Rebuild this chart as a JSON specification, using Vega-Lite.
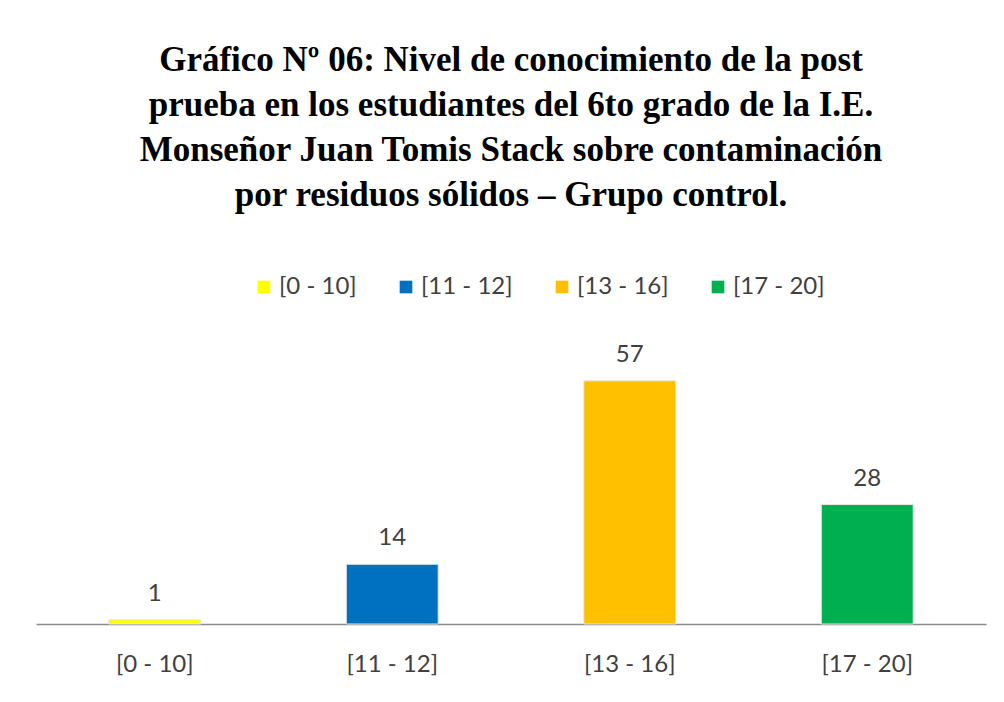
{
  "$schema": "https://vega.github.io/schema/vega-lite/v6.json",
  "width": 950,
  "height": 256,
  "autosize": {"type": "none"},
  "padding": {"left": 36, "top": 368, "right": 18, "bottom": 78},
  "background": "#ffffff",
  "config": {"view": {"stroke": null}},
  "title": {
    "text": ["Gráfico Nº 06: Nivel de conocimiento de la post", "prueba en los estudiantes del 6to grado de la I.E.", "Monseñor Juan Tomis Stack sobre contaminación", "por residuos sólidos – Grupo control."],
    "font": "Liberation Serif",
    "fontSize": 35,
    "fontWeight": "bold",
    "color": "#000000",
    "lineHeight": 45,
    "anchor": "middle",
    "baseline": "alphabetic",
    "offset": 34
  },
  "data": {
    "values": [
      {"rango": "[0 - 10]", "n": 1},
      {"rango": "[11 - 12]", "n": 14},
      {"rango": "[13 - 16]", "n": 57},
      {"rango": "[17 - 20]", "n": 28}
    ]
  },
  "encoding": {
    "x": {
      "field": "rango",
      "type": "nominal",
      "sort": null,
      "scale": {"paddingInner": 0.613, "paddingOuter": 0.3065},
      "axis": {
        "title": null,
        "labelAngle": 0,
        "ticks": false,
        "domainColor": "#8c8c8c",
        "domainWidth": 1.5,
        "labelFont": "Lato",
        "labelFontSize": 24,
        "labelColor": "#404040",
        "labelPadding": 28
      }
    },
    "y": {
      "field": "n",
      "type": "quantitative",
      "scale": {"domain": [0, 60]},
      "axis": null
    }
  },
  "layer": [
    {
      "mark": {"type": "bar", "stroke": "#e6e6e6", "strokeWidth": 1},
      "encoding": {
        "color": {
          "field": "rango",
          "type": "nominal",
          "sort": null,
          "scale": {"domain": ["[0 - 10]", "[11 - 12]", "[13 - 16]", "[17 - 20]"], "range": ["#FFFF00", "#0070C0", "#FFC000", "#00B050"]},
          "legend": {
            "title": null,
            "orient": "none",
            "direction": "horizontal",
            "legendX": 216,
            "legendY": -93,
            "symbolType": "square",
            "symbolSize": 160,
            "symbolStrokeWidth": 0,
            "labelFont": "Lato",
            "labelFontSize": 24,
            "labelColor": "#404040",
            "labelOffset": 3,
            "columnPadding": 37
          }
        }
      }
    },
    {
      "mark": {"type": "text", "baseline": "bottom", "dy": -14, "font": "Lato", "fontSize": 24, "color": "#404040"},
      "encoding": {"text": {"field": "n", "type": "quantitative"}}
    }
  ]
}
